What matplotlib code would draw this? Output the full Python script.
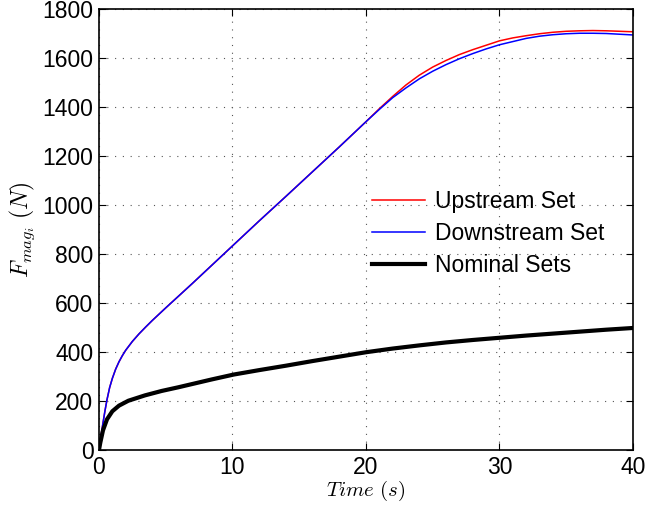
import matplotlib
matplotlib.use("Agg")
import matplotlib.pyplot as plt

plt.rcParams['font.family'] = ['Liberation Sans', 'DejaVu Sans']
plt.rcParams['mathtext.fontset'] = 'cm'

# Time axis samples (s) and magnetic force readings (N)
t_up = [0, 0.1, 0.2, 0.3, 0.45, 0.6, 0.8, 1.0, 1.25, 1.5, 1.75, 2.0, 2.5, 3.0,
        3.5, 4.0, 5.0, 6.0, 7.0, 8.0, 9.0, 10, 12, 14, 16, 18, 20, 21, 22, 23,
        24, 25, 26, 27, 28, 29, 30, 31, 32, 33, 34, 35, 36, 37, 38, 39, 40]
upstream = [0, 38, 75, 110, 160, 205, 255, 292, 330, 360, 385, 407, 443, 474,
            502, 529, 580, 630, 680, 731, 782, 833, 935, 1035, 1136, 1237, 1340,
            1393, 1443, 1490, 1530, 1563, 1590, 1614, 1634, 1652, 1670, 1682,
            1691, 1699, 1705, 1709, 1711, 1712, 1711, 1709, 1707]
downstream = [0, 38, 75, 110, 160, 205, 255, 292, 330, 360, 385, 407, 443, 474,
              502, 529, 580, 630, 680, 731, 782, 833, 935, 1035, 1136, 1237, 1340,
              1390, 1438, 1478, 1515, 1546, 1573, 1597, 1618, 1637, 1654, 1667,
              1680, 1689, 1695, 1699, 1701, 1701, 1700, 1697, 1694]

t_nom = [0, 0.1, 0.3, 0.6, 1.0, 1.5, 2.2, 3.45, 4.7, 5.95, 7.2, 8.45, 10.1,
         12, 14, 16, 18, 20, 22, 24, 26, 28, 30, 32, 34, 36, 38, 40]
nominal = [0, 30, 80, 125, 158, 181, 201, 223, 241, 256, 272, 288, 308,
           326, 344, 363, 381, 399, 414, 427, 439, 449, 458, 467, 475, 483,
           491, 498]

x_ticks = [0, 10, 20, 30, 40]
y_ticks = [0, 200, 400, 600, 800, 1000, 1200, 1400, 1600, 1800]

fig = plt.figure(figsize=(6.49, 5.11), dpi=100)
ax = fig.add_axes([0.1525, 0.1194, 0.8228, 0.863])

ax.plot(t_up, upstream, color='#ff0000', lw=1.1, label='Upstream Set')
ax.plot(t_up, downstream, color='#0000ff', lw=1.1, label='Downstream Set')
ax.plot(t_nom, nominal, color='black', lw=3.0, label='Nominal Sets')

ax.set_xlim(0, 40)
ax.set_ylim(0, 1800)
ax.set_xticks(x_ticks)
ax.set_yticks(y_ticks)
ax.tick_params(direction='in', top=True, right=True, labelsize=16.5,
               length=5, width=0.8, pad=4)
for s in ax.spines.values():
    s.set_linewidth(1.2)

ax.grid(True, color='#555555', linestyle=(0, (1, 6)), linewidth=0.8)

ax.set_xlabel(r'$Time\ (s)$', fontsize=15, labelpad=0)
ax.set_ylabel(r'$F_{mag_i}\ (N)$', fontsize=17, labelpad=4)

leg = ax.legend(loc='upper left', bbox_to_anchor=(0.495, 0.61), frameon=False,
                fontsize=16.5, handlelength=2.3, handletextpad=0.45,
                labelspacing=0.4, borderaxespad=0)

fig.savefig('out.png', dpi=100)
